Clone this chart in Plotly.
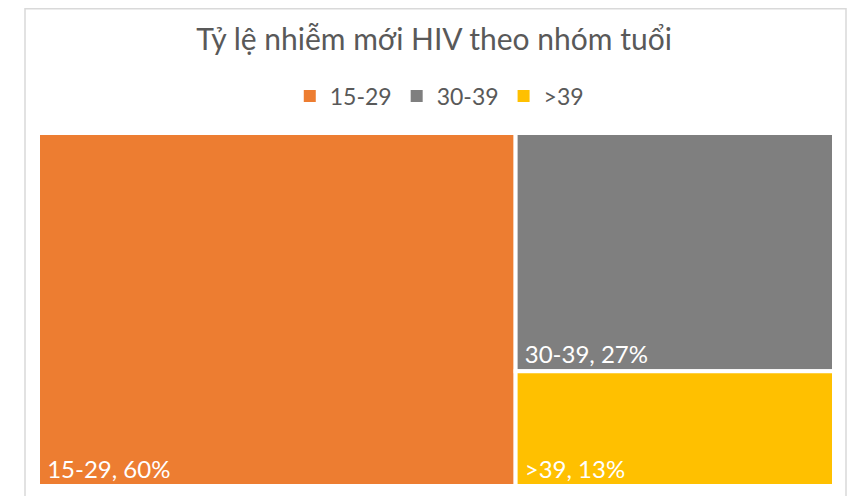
import plotly.graph_objects as go

labels = ["15-29", "30-39", ">39"]
values = [60, 27, 13]
colors = ["#ED7D31", "#7F7F7F", "#FFC000"]
title = "Tỷ lệ nhiễm mới HIV theo nhóm tuổi"

# the page body has an 8px margin, so the figure is drawn 8px smaller
W, H = 851, 488
L, R, T, B = 30, 25, 125, 10

fig = go.Figure()
fig.add_trace(go.Treemap(
    labels=labels,
    parents=["", "", ""],
    values=values,
    sort=True,
    marker=dict(colors=colors, line=dict(color="white", width=4),
                pad=dict(t=0, l=0, r=0, b=0)),
    texttemplate="\u00a0%{label}, %{value}%",
    textposition="bottom left",
    textfont=dict(family="Lato", size=24, color="white"),
    tiling=dict(packing="squarify", pad=0),
    pathbar=dict(visible=False),
    hoverinfo="label+value",
))

# legend entries (dummy scatter traces)
for lab, col in zip(labels, colors):
    fig.add_trace(go.Scatter(
        x=[None], y=[None], mode="markers", name=lab,
        marker=dict(symbol="square", size=12, color=col),
        showlegend=True,
    ))

pw = W - L - R
ph = H - T - B
fig.add_shape(type="rect", xref="paper", yref="paper",
              x0=(17 - L) / pw, x1=(838 - L) / pw,
              y0=(H - B - 520) / ph, y1=(H - B - 0.75) / ph,
              line=dict(color="#D9D9D9", width=1.5), fillcolor="rgba(0,0,0,0)",
              layer="below")

fig.update_layout(
    width=W, height=H,
    margin=dict(l=L, r=R, t=T, b=B, autoexpand=False),
    paper_bgcolor="white", plot_bgcolor="white",
    title=dict(text=title, x=(434 - 8) / W, xanchor="center", y=1 - 31 / H, yanchor="middle",
               font=dict(family="Lato", size=30, color="#595959")),
    legend=dict(orientation="h", x=(437 - 8) / W, xanchor="center", y=1 - 88 / H, yanchor="middle",
                yref="container", font=dict(family="Lato", size=23, color="#595959"),
                itemsizing="constant", traceorder="normal", itemwidth=30),
    xaxis=dict(visible=False), yaxis=dict(visible=False),
)

fig.write_html("out.html")
